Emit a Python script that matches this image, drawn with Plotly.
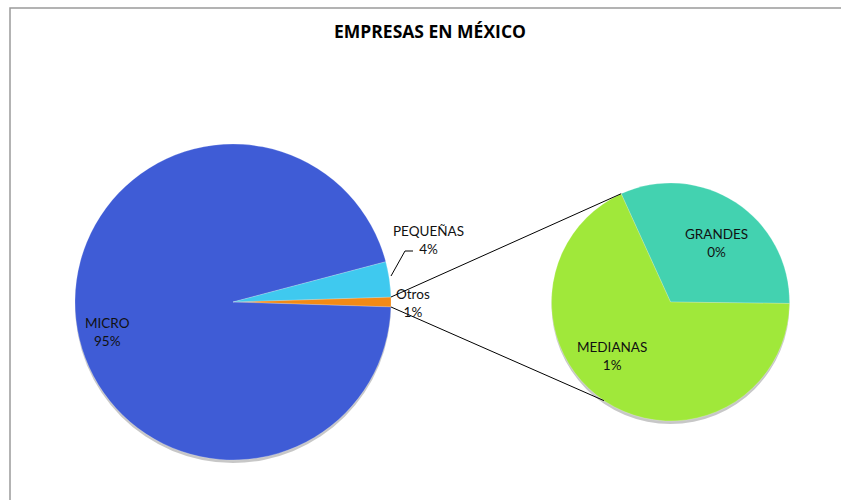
import math
import plotly.graph_objects as go

W, H = 841, 500

# Company size shares (percent of all firms)
main_labels = ["Otros", "MICRO", "PEQUEÑAS"]
main_values = [1.0, 95.4, 3.6]
main_colors = ["#f28a16", "#3f5cd6", "#3fc9ef"]

sub_labels = ["GRANDES", "MEDIANAS"]
sub_values = [0.32, 0.68]
sub_colors = ["#43d2b0", "#a0e83a"]

TITLE = "EMPRESAS EN MÉXICO"

# pie geometry in pixels (center x, center y from top, radius)
MAIN_C = (233.0, 302.0, 158.0)
SUB_C = (670.5, 302.0, 119.0)
SUB_ROT = -24.5


def domain(c, dy=0.0):
    cx, cy, r = c
    cy += dy
    return dict(x=[(cx - r) / W, (cx + r) / W], y=[1 - (cy + r) / H, 1 - (cy - r) / H])


def pt(c, ang):
    # angle in degrees clockwise from 12 o'clock -> paper coordinates
    cx, cy, r = c
    a = math.radians(ang)
    return (cx + r * math.sin(a)) / W, 1 - (cy - r * math.cos(a)) / H


otros_span = 360 * main_values[0] / sum(main_values)
main_rot = 90 - otros_span / 2

fig = go.Figure()
# soft drop shadows under both pies
for c in (MAIN_C, SUB_C):
    fig.add_trace(go.Pie(
        values=[1], labels=[""], domain=domain(c, 3), textinfo="none", hoverinfo="skip",
        marker=dict(colors=["rgba(0,0,0,0.22)"], line=dict(width=0)), showlegend=False,
        sort=False,
    ))

fig.add_trace(go.Pie(
    labels=main_labels, values=main_values, sort=False, direction="clockwise",
    rotation=main_rot, domain=domain(MAIN_C), textinfo="none", hoverinfo="label+percent",
    marker=dict(colors=main_colors, line=dict(color="rgba(255,255,255,0.35)", width=0.6)),
    showlegend=False,
))
fig.add_trace(go.Pie(
    labels=sub_labels, values=sub_values, sort=False, direction="clockwise",
    rotation=SUB_ROT, domain=domain(SUB_C), textinfo="none", hoverinfo="label+value",
    marker=dict(colors=sub_colors, line=dict(color="rgba(255,255,255,0.35)", width=0.6)),
    showlegend=False,
))

# connector lines from the "Otros" slice to the secondary pie
p1 = pt(MAIN_C, 90 - otros_span / 2)
p2 = pt(MAIN_C, 90 + otros_span / 2)
q1 = pt(SUB_C, SUB_ROT)
q2 = pt(SUB_C, 214)
shapes = [
    dict(type="line", xref="paper", yref="paper", x0=p1[0], y0=p1[1], x1=q1[0], y1=q1[1],
         line=dict(color="black", width=1)),
    dict(type="line", xref="paper", yref="paper", x0=p2[0], y0=p2[1], x1=q2[0], y1=q2[1],
         line=dict(color="black", width=1)),
    # leader line for PEQUEÑAS
    dict(type="path", xref="paper", yref="paper",
         path=f"M {413/W},{1-251/H} L {405/W},{1-251/H} L {391/W},{1-276/H}",
         line=dict(color="black", width=1)),
    # chart frame
    dict(type="path", xref="paper", yref="paper",
         path=f"M {10/W},{0} L {10/W},{1-8/H} L 1,{1-8/H}",
         line=dict(color="#9a9a9a", width=1.5)),
]

FONT = "Lato, Open Sans, sans-serif"
label_pos = {
    "MICRO": (107, 332, main_values[1]),
    "PEQUEÑAS": (428, 240, main_values[2]),
    "Otros": (413, 303, main_values[0]),
    "GRANDES": (716, 243, sub_values[0]),
    "MEDIANAS": (612, 356, sub_values[1]),
}
annotations = []
for name, (x, y, v) in label_pos.items():
    annotations.append(dict(
        x=x / W, y=1 - y / H, xref="paper", yref="paper", showarrow=False,
        xanchor="center", yanchor="middle",
        text=f"{name}<br>{v:.0f}%", align="center",
        font=dict(family=FONT, size=13.5, color="#111111"),
    ))
annotations.append(dict(
    x=430 / W, y=1 - 31 / H, xref="paper", yref="paper", showarrow=False,
    xanchor="center", yanchor="middle",
    text=f"<b>{TITLE}</b>", font=dict(family="Open Sans, sans-serif", size=17.5, color="black"),
))

fig.update_layout(
    width=W, height=H, margin=dict(l=0, r=0, t=0, b=0),
    paper_bgcolor="white", plot_bgcolor="white",
    shapes=shapes, annotations=annotations, showlegend=False,
)
fig.write_html("out.html")
